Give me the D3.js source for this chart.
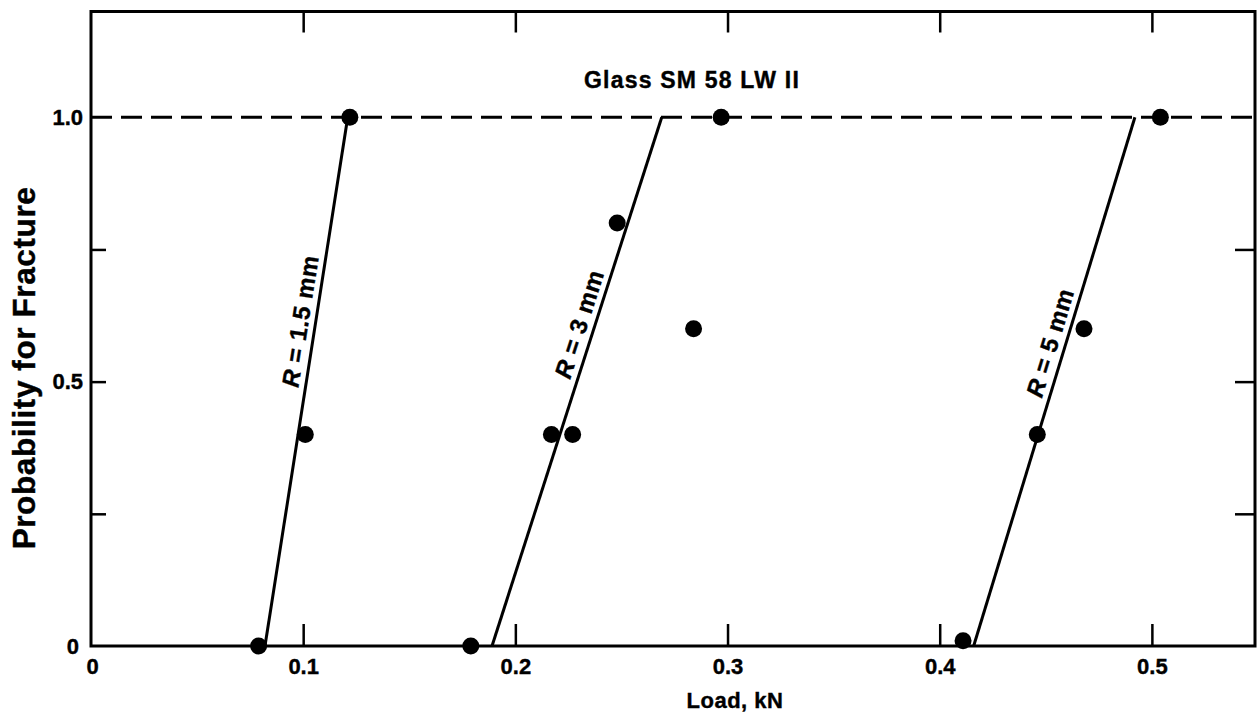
<!DOCTYPE html>
<html>
<head>
<meta charset="utf-8">
<script src="https://cdn.jsdelivr.net/npm/d3@7"></script>
<style>
  html, body { margin: 0; padding: 0; background: #fff; }
  svg { display: block; }
  text { font-family: "Liberation Sans", Arial, sans-serif; font-weight: bold; fill: #000; stroke: #000; stroke-width: 0.4px; }
</style>
</head>
<body>
<svg id="chart" width="1257" height="725"></svg>
<script>
// ---------- data ----------
const title = "Glass SM 58 LW II";
const xLabel = "Load, kN";
const yLabel = "Probability for Fracture";

const xTickValues = [0, 0.1, 0.2, 0.3, 0.4, 0.5];
const xTickLabels = ["0", "0.1", "0.2", "0.3", "0.4", "0.5"];
const yTickValues = [0, 0.5, 1.0];
const yTickLabels = ["0", "0.5", "1.0"];
const yMinorTicks = [0.25, 0.5, 0.75];
const xFrameTicks = [0.1, 0.2, 0.3, 0.4, 0.5];

const seriesNames = ["R = 1.5 mm", "R = 3 mm", "R = 5 mm"];

// measured points (load in kN, probability)
const load15 = [0.079, 0.101, 0.122];
const prob15 = [0, 0.4, 1.0];
const load3 = [0.179, 0.217, 0.227, 0.248, 0.284, 0.297];
const prob3 = [0, 0.4, 0.4, 0.8, 0.6, 1.0];
const load5 = [0.411, 0.446, 0.468, 0.504];
const prob5 = [0.01, 0.4, 0.6, 1.0];

// fitted straight lines (load at probability 0 and 1)
const fitProb = [0, 1.0];
const fitLoad15 = [0.082, 0.121];
const fitLoad3 = [0.189, 0.269];
const fitLoad5 = [0.416, 0.492];

// reference (certain fracture) level
const certainProb = 1.0;

// ---------- drawing ----------
const svg = d3.select("#chart");
const mLeft = 91, mRight = 1255, mTop = 11.5, mBottom = 646;
const xMax = 0.5486, yMax = 1.2;

const x = d3.scaleLinear().domain([0, xMax]).range([mLeft, mRight]);
const y = d3.scaleLinear().domain([0, yMax]).range([mBottom, mTop]);

const ink = "#000";

// inward ticks
const gB = svg.append("g").attr("transform", `translate(0,${mBottom})`)
  .call(d3.axisBottom(x).tickValues(xFrameTicks).tickSizeInner(-22).tickSizeOuter(0).tickFormat(""));
const gT = svg.append("g").attr("transform", `translate(0,${mTop})`)
  .call(d3.axisTop(x).tickValues(xFrameTicks).tickSizeInner(-21).tickSizeOuter(0).tickFormat(""));
const gL = svg.append("g").attr("transform", `translate(${mLeft},0)`)
  .call(d3.axisLeft(y).tickValues(yMinorTicks).tickSizeInner(-15).tickSizeOuter(0).tickFormat(""));
const gR = svg.append("g").attr("transform", `translate(${mRight},0)`)
  .call(d3.axisRight(y).tickValues(yMinorTicks).tickSizeInner(-20).tickSizeOuter(0).tickFormat(""));
[gB, gT, gL, gR].forEach(g => {
  g.select(".domain").remove();
  g.selectAll(".tick line").attr("stroke", ink).attr("stroke-width", 2.5);
});

// tick labels
const gXL = svg.append("g").attr("transform", `translate(0,${mBottom})`)
  .call(d3.axisBottom(x).tickValues(xTickValues).tickSize(0).tickPadding(12)
    .tickFormat((d, i) => xTickLabels[i]));
gXL.select(".domain").remove();
gXL.selectAll("text").attr("font-size", 22).attr("font-family", "Liberation Sans, Arial, sans-serif")
  .attr("font-weight", "bold").attr("fill", ink)
  .attr("dx", d => d === 0 ? 1 : 0);

const gYL = svg.append("g").attr("transform", `translate(${mLeft},0)`)
  .call(d3.axisLeft(y).tickValues(yTickValues).tickSize(0).tickPadding(8)
    .tickFormat((d, i) => yTickLabels[i]));
gYL.select(".domain").remove();
gYL.selectAll("text").attr("font-size", 22).attr("font-family", "Liberation Sans, Arial, sans-serif")
  .attr("font-weight", "bold").attr("fill", ink)
  .attr("dx", d => d === 0 ? -4 : 0);

// frame
svg.append("rect")
  .attr("x", x(0)).attr("y", y(yMax))
  .attr("width", x(xMax) - x(0)).attr("height", y(0) - y(yMax))
  .attr("fill", "none").attr("stroke", ink).attr("stroke-width", 3);

// dashed certain-fracture line
svg.append("line")
  .attr("x1", x(0)).attr("x2", x(xMax))
  .attr("y1", y(certainProb)).attr("y2", y(certainProb))
  .attr("stroke", ink).attr("stroke-width", 3)
  .attr("stroke-dasharray", "21,9");

// fit lines
const fits = [fitLoad15, fitLoad3, fitLoad5];
const lineGen = d3.line().x(d => x(d[0])).y(d => y(d[1]));
fits.forEach(f => {
  svg.append("path")
    .datum(f.map((v, i) => [v, fitProb[i]]))
    .attr("d", lineGen)
    .attr("fill", "none").attr("stroke", ink).attr("stroke-width", 3);
});

// points
const pts = [
  ...load15.map((v, i) => [v, prob15[i]]),
  ...load3.map((v, i) => [v, prob3[i]]),
  ...load5.map((v, i) => [v, prob5[i]])
];
svg.append("g").selectAll("circle").data(pts).join("circle")
  .attr("cx", d => x(d[0])).attr("cy", d => y(d[1])).attr("r", 8.5)
  .attr("fill", ink);

// line labels, rotated along each fit line
const labelAt = [0.61, 0.60, 0.565];
fits.forEach((f, i) => {
  const p = labelAt[i];
  const lx = x(f[0] + (f[1] - f[0]) * p);
  const ly = y(p);
  const ang = Math.atan2(y(1) - y(0), x(f[1]) - x(f[0])) * 180 / Math.PI;
  const t = svg.append("text")
    .attr("transform", `translate(${lx},${ly}) rotate(${ang})`)
    .attr("text-anchor", "middle")
    .attr("dy", -7)
    .attr("font-size", 24)
    .attr("letter-spacing", 0.6);
  const parts = seriesNames[i].split(" ");
  t.append("tspan").attr("font-style", "italic").text(parts[0]);
  t.append("tspan").text(" " + parts.slice(1).join(" "));
});

// title
svg.append("text")
  .attr("x", 692).attr("y", 88)
  .attr("text-anchor", "middle")
  .attr("font-size", 23)
  .attr("letter-spacing", 1.2)
  .text(title);

// axis titles
svg.append("text")
  .attr("x", 735).attr("y", 708)
  .attr("text-anchor", "middle")
  .attr("font-size", 22)
  .attr("letter-spacing", 0.5)
  .text(xLabel);

svg.append("text")
  .attr("transform", `translate(35,368) rotate(-90)`)
  .attr("text-anchor", "middle")
  .attr("font-size", 31.5)
  .attr("letter-spacing", 0.6)
  .text(yLabel);
</script>
</body>
</html>
